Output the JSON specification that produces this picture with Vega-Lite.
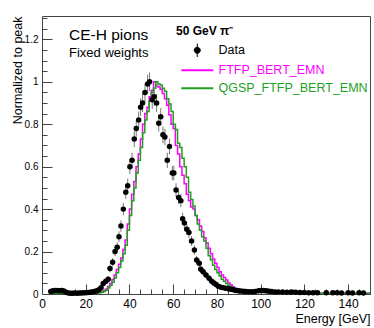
{
  "$schema": "https://vega.github.io/schema/vega-lite/v6.json",
  "width": 328,
  "height": 278,
  "autosize": "none",
  "padding": {"left": 42, "top": 16, "right": 4, "bottom": 34},
  "background": "white",
  "title": {
    "text": "CE-H pions",
    "subtitle": "Fixed weights",
    "anchor": "start",
    "frame": "group",
    "orient": "top",
    "dx": 27,
    "dy": 47,
    "offset": 0,
    "font": "Liberation Sans",
    "fontSize": 15.5,
    "fontWeight": "normal",
    "color": "black",
    "subtitleFont": "Liberation Sans",
    "subtitleFontSize": 13,
    "subtitleColor": "black",
    "subtitlePadding": 4
  },
  "config": {
    "font": "Liberation Sans",
    "view": {"stroke": "#444", "strokeWidth": 1},
    "axis": {
      "labelFont": "Liberation Sans",
      "titleFont": "Liberation Sans",
      "labelColor": "black",
      "titleColor": "black",
      "domainColor": "#444",
      "tickColor": "#444",
      "grid": false,
      "titleFontWeight": "normal"
    },
    "legend": {
      "labelFont": "Liberation Sans",
      "titleFont": "Liberation Sans"
    }
  },
  "data": {
    "values": [
      {"s": "Data", "e": 4, "v": 0.012, "err": 0.008},
      {"s": "Data", "e": 5, "v": 0.015, "err": 0.009},
      {"s": "Data", "e": 6, "v": 0.016, "err": 0.009},
      {"s": "Data", "e": 7, "v": 0.016, "err": 0.009},
      {"s": "Data", "e": 8, "v": 0.015, "err": 0.009},
      {"s": "Data", "e": 9, "v": 0.016, "err": 0.009},
      {"s": "Data", "e": 10, "v": 0.014, "err": 0.009},
      {"s": "Data", "e": 11, "v": 0.008, "err": 0.008},
      {"s": "Data", "e": 12, "v": 0.005, "err": 0.007},
      {"s": "Data", "e": 13, "v": 0.004, "err": 0.007},
      {"s": "Data", "e": 14, "v": 0.004, "err": 0.007},
      {"s": "Data", "e": 15, "v": 0.005, "err": 0.007},
      {"s": "Data", "e": 16, "v": 0.004, "err": 0.007},
      {"s": "Data", "e": 17, "v": 0.005, "err": 0.007},
      {"s": "Data", "e": 18, "v": 0.005, "err": 0.007},
      {"s": "Data", "e": 19, "v": 0.006, "err": 0.007},
      {"s": "Data", "e": 20, "v": 0.006, "err": 0.007},
      {"s": "Data", "e": 21, "v": 0.007, "err": 0.007},
      {"s": "Data", "e": 22, "v": 0.008, "err": 0.008},
      {"s": "Data", "e": 23, "v": 0.01, "err": 0.008},
      {"s": "Data", "e": 24, "v": 0.012, "err": 0.008},
      {"s": "Data", "e": 25, "v": 0.015, "err": 0.009},
      {"s": "Data", "e": 26, "v": 0.02, "err": 0.01},
      {"s": "Data", "e": 27, "v": 0.03, "err": 0.011},
      {"s": "Data", "e": 28, "v": 0.05, "err": 0.013},
      {"s": "Data", "e": 29.2, "v": 0.06, "err": 0.014},
      {"s": "Data", "e": 30.3, "v": 0.07, "err": 0.015},
      {"s": "Data", "e": 31.1, "v": 0.12, "err": 0.018},
      {"s": "Data", "e": 32.3, "v": 0.15, "err": 0.019},
      {"s": "Data", "e": 33.4, "v": 0.2, "err": 0.022},
      {"s": "Data", "e": 34.4, "v": 0.22, "err": 0.023},
      {"s": "Data", "e": 35.2, "v": 0.27, "err": 0.025},
      {"s": "Data", "e": 36.1, "v": 0.32, "err": 0.027},
      {"s": "Data", "e": 37.2, "v": 0.4, "err": 0.029},
      {"s": "Data", "e": 38.3, "v": 0.48, "err": 0.032},
      {"s": "Data", "e": 39.2, "v": 0.51, "err": 0.033},
      {"s": "Data", "e": 40.2, "v": 0.6, "err": 0.035},
      {"s": "Data", "e": 41.2, "v": 0.63, "err": 0.036},
      {"s": "Data", "e": 42.2, "v": 0.73, "err": 0.038},
      {"s": "Data", "e": 43.1, "v": 0.78, "err": 0.039},
      {"s": "Data", "e": 44.2, "v": 0.82, "err": 0.04},
      {"s": "Data", "e": 45.1, "v": 0.88, "err": 0.042},
      {"s": "Data", "e": 46, "v": 0.9, "err": 0.042},
      {"s": "Data", "e": 47.1, "v": 0.95, "err": 0.043},
      {"s": "Data", "e": 48.3, "v": 0.99, "err": 0.044},
      {"s": "Data", "e": 49.2, "v": 1.0, "err": 0.044},
      {"s": "Data", "e": 50.4, "v": 0.915, "err": 0.042},
      {"s": "Data", "e": 51.3, "v": 0.93, "err": 0.043},
      {"s": "Data", "e": 52.4, "v": 0.9, "err": 0.042},
      {"s": "Data", "e": 53.4, "v": 0.805, "err": 0.04},
      {"s": "Data", "e": 54.3, "v": 0.835, "err": 0.041},
      {"s": "Data", "e": 55.3, "v": 0.75, "err": 0.039},
      {"s": "Data", "e": 56.2, "v": 0.74, "err": 0.038},
      {"s": "Data", "e": 57.3, "v": 0.63, "err": 0.036},
      {"s": "Data", "e": 58.3, "v": 0.695, "err": 0.037},
      {"s": "Data", "e": 59.6, "v": 0.57, "err": 0.034},
      {"s": "Data", "e": 60.3, "v": 0.57, "err": 0.034},
      {"s": "Data", "e": 61.3, "v": 0.49, "err": 0.032},
      {"s": "Data", "e": 62.5, "v": 0.455, "err": 0.031},
      {"s": "Data", "e": 63.5, "v": 0.44, "err": 0.031},
      {"s": "Data", "e": 64.3, "v": 0.355, "err": 0.028},
      {"s": "Data", "e": 65.1, "v": 0.335, "err": 0.027},
      {"s": "Data", "e": 66.2, "v": 0.305, "err": 0.026},
      {"s": "Data", "e": 67.2, "v": 0.29, "err": 0.026},
      {"s": "Data", "e": 68.4, "v": 0.25, "err": 0.024},
      {"s": "Data", "e": 69.7, "v": 0.207, "err": 0.022},
      {"s": "Data", "e": 70.7, "v": 0.16, "err": 0.02},
      {"s": "Data", "e": 71.9, "v": 0.145, "err": 0.019},
      {"s": "Data", "e": 72.6, "v": 0.117, "err": 0.018},
      {"s": "Data", "e": 73.7, "v": 0.105, "err": 0.017},
      {"s": "Data", "e": 75, "v": 0.09, "err": 0.016},
      {"s": "Data", "e": 76.4, "v": 0.074, "err": 0.015},
      {"s": "Data", "e": 77.6, "v": 0.06, "err": 0.014},
      {"s": "Data", "e": 78.6, "v": 0.052, "err": 0.013},
      {"s": "Data", "e": 79.6, "v": 0.045, "err": 0.012},
      {"s": "Data", "e": 80.6, "v": 0.036, "err": 0.012},
      {"s": "Data", "e": 81.8, "v": 0.032, "err": 0.011},
      {"s": "Data", "e": 82.9, "v": 0.03, "err": 0.011},
      {"s": "Data", "e": 84, "v": 0.027, "err": 0.011},
      {"s": "Data", "e": 85.2, "v": 0.025, "err": 0.01},
      {"s": "Data", "e": 86.3, "v": 0.022, "err": 0.01},
      {"s": "Data", "e": 87.5, "v": 0.02, "err": 0.01},
      {"s": "Data", "e": 88.6, "v": 0.017, "err": 0.009},
      {"s": "Data", "e": 89.7, "v": 0.015, "err": 0.009},
      {"s": "Data", "e": 90.8, "v": 0.014, "err": 0.009},
      {"s": "Data", "e": 92, "v": 0.013, "err": 0.009},
      {"s": "Data", "e": 93.2, "v": 0.012, "err": 0.008},
      {"s": "Data", "e": 94.5, "v": 0.011, "err": 0.008},
      {"s": "Data", "e": 96, "v": 0.011, "err": 0.008},
      {"s": "Data", "e": 97.5, "v": 0.012, "err": 0.008},
      {"s": "Data", "e": 99, "v": 0.015, "err": 0.009},
      {"s": "Data", "e": 100.2, "v": 0.016, "err": 0.009},
      {"s": "Data", "e": 101.4, "v": 0.016, "err": 0.009},
      {"s": "Data", "e": 102.6, "v": 0.015, "err": 0.009},
      {"s": "Data", "e": 103.8, "v": 0.013, "err": 0.009},
      {"s": "Data", "e": 105, "v": 0.012, "err": 0.008},
      {"s": "Data", "e": 106.5, "v": 0.01, "err": 0.008},
      {"s": "Data", "e": 108, "v": 0.01, "err": 0.008},
      {"s": "Data", "e": 110, "v": 0.009, "err": 0.008},
      {"s": "Data", "e": 112, "v": 0.008, "err": 0.008},
      {"s": "Data", "e": 114, "v": 0.009, "err": 0.008},
      {"s": "Data", "e": 116, "v": 0.008, "err": 0.008},
      {"s": "Data", "e": 118, "v": 0.007, "err": 0.007},
      {"s": "Data", "e": 120, "v": 0.007, "err": 0.007},
      {"s": "Data", "e": 122, "v": 0.006, "err": 0.007},
      {"s": "Data", "e": 124, "v": 0.006, "err": 0.007},
      {"s": "Data", "e": 126, "v": 0.006, "err": 0.007},
      {"s": "Data", "e": 130, "v": 0.006, "err": 0.007},
      {"s": "Data", "e": 133, "v": 0.006, "err": 0.007},
      {"s": "Data", "e": 135, "v": 0.006, "err": 0.007},
      {"s": "Data", "e": 137, "v": 0.005, "err": 0.007},
      {"s": "Data", "e": 140, "v": 0.006, "err": 0.007},
      {"s": "Data", "e": 142, "v": 0.005, "err": 0.007},
      {"s": "Data", "e": 145, "v": 0.006, "err": 0.007},
      {"s": "Data", "e": 147, "v": 0.005, "err": 0.007},

      {"s": "FTFP_BERT_EMN", "e": 4, "v": 0.003},
      {"s": "FTFP_BERT_EMN", "e": 6, "v": 0.004},
      {"s": "FTFP_BERT_EMN", "e": 8, "v": 0.005},
      {"s": "FTFP_BERT_EMN", "e": 10, "v": 0.004},
      {"s": "FTFP_BERT_EMN", "e": 12, "v": 0.003},
      {"s": "FTFP_BERT_EMN", "e": 14, "v": 0.003},
      {"s": "FTFP_BERT_EMN", "e": 16, "v": 0.003},
      {"s": "FTFP_BERT_EMN", "e": 18, "v": 0.003},
      {"s": "FTFP_BERT_EMN", "e": 20, "v": 0.004},
      {"s": "FTFP_BERT_EMN", "e": 22, "v": 0.004},
      {"s": "FTFP_BERT_EMN", "e": 24, "v": 0.005},
      {"s": "FTFP_BERT_EMN", "e": 25, "v": 0.006},
      {"s": "FTFP_BERT_EMN", "e": 26, "v": 0.008},
      {"s": "FTFP_BERT_EMN", "e": 27, "v": 0.011},
      {"s": "FTFP_BERT_EMN", "e": 28, "v": 0.016},
      {"s": "FTFP_BERT_EMN", "e": 29, "v": 0.024},
      {"s": "FTFP_BERT_EMN", "e": 30, "v": 0.035},
      {"s": "FTFP_BERT_EMN", "e": 31, "v": 0.05},
      {"s": "FTFP_BERT_EMN", "e": 32, "v": 0.068},
      {"s": "FTFP_BERT_EMN", "e": 33, "v": 0.09},
      {"s": "FTFP_BERT_EMN", "e": 34, "v": 0.115},
      {"s": "FTFP_BERT_EMN", "e": 35, "v": 0.14},
      {"s": "FTFP_BERT_EMN", "e": 36, "v": 0.17},
      {"s": "FTFP_BERT_EMN", "e": 37, "v": 0.21},
      {"s": "FTFP_BERT_EMN", "e": 38, "v": 0.255},
      {"s": "FTFP_BERT_EMN", "e": 39, "v": 0.33},
      {"s": "FTFP_BERT_EMN", "e": 40, "v": 0.4},
      {"s": "FTFP_BERT_EMN", "e": 41, "v": 0.47},
      {"s": "FTFP_BERT_EMN", "e": 42, "v": 0.53},
      {"s": "FTFP_BERT_EMN", "e": 43, "v": 0.6},
      {"s": "FTFP_BERT_EMN", "e": 44, "v": 0.66},
      {"s": "FTFP_BERT_EMN", "e": 45, "v": 0.73},
      {"s": "FTFP_BERT_EMN", "e": 46, "v": 0.8},
      {"s": "FTFP_BERT_EMN", "e": 47, "v": 0.85},
      {"s": "FTFP_BERT_EMN", "e": 48, "v": 0.88},
      {"s": "FTFP_BERT_EMN", "e": 49, "v": 0.93},
      {"s": "FTFP_BERT_EMN", "e": 50, "v": 0.96},
      {"s": "FTFP_BERT_EMN", "e": 51, "v": 1.0},
      {"s": "FTFP_BERT_EMN", "e": 52, "v": 0.98},
      {"s": "FTFP_BERT_EMN", "e": 53, "v": 0.975},
      {"s": "FTFP_BERT_EMN", "e": 54, "v": 0.965},
      {"s": "FTFP_BERT_EMN", "e": 55, "v": 0.945},
      {"s": "FTFP_BERT_EMN", "e": 56, "v": 0.92},
      {"s": "FTFP_BERT_EMN", "e": 57, "v": 0.89},
      {"s": "FTFP_BERT_EMN", "e": 58, "v": 0.845},
      {"s": "FTFP_BERT_EMN", "e": 59, "v": 0.8},
      {"s": "FTFP_BERT_EMN", "e": 60, "v": 0.78},
      {"s": "FTFP_BERT_EMN", "e": 61, "v": 0.7},
      {"s": "FTFP_BERT_EMN", "e": 62, "v": 0.66},
      {"s": "FTFP_BERT_EMN", "e": 63, "v": 0.6},
      {"s": "FTFP_BERT_EMN", "e": 64, "v": 0.56},
      {"s": "FTFP_BERT_EMN", "e": 65, "v": 0.52},
      {"s": "FTFP_BERT_EMN", "e": 66, "v": 0.47},
      {"s": "FTFP_BERT_EMN", "e": 67, "v": 0.44},
      {"s": "FTFP_BERT_EMN", "e": 68, "v": 0.41},
      {"s": "FTFP_BERT_EMN", "e": 69, "v": 0.4},
      {"s": "FTFP_BERT_EMN", "e": 70, "v": 0.37},
      {"s": "FTFP_BERT_EMN", "e": 71, "v": 0.35},
      {"s": "FTFP_BERT_EMN", "e": 72, "v": 0.32},
      {"s": "FTFP_BERT_EMN", "e": 73, "v": 0.295},
      {"s": "FTFP_BERT_EMN", "e": 74, "v": 0.265},
      {"s": "FTFP_BERT_EMN", "e": 75, "v": 0.24},
      {"s": "FTFP_BERT_EMN", "e": 76, "v": 0.215},
      {"s": "FTFP_BERT_EMN", "e": 77, "v": 0.19},
      {"s": "FTFP_BERT_EMN", "e": 78, "v": 0.165},
      {"s": "FTFP_BERT_EMN", "e": 79, "v": 0.145},
      {"s": "FTFP_BERT_EMN", "e": 80, "v": 0.125},
      {"s": "FTFP_BERT_EMN", "e": 81, "v": 0.105},
      {"s": "FTFP_BERT_EMN", "e": 82, "v": 0.09},
      {"s": "FTFP_BERT_EMN", "e": 83, "v": 0.078},
      {"s": "FTFP_BERT_EMN", "e": 84, "v": 0.066},
      {"s": "FTFP_BERT_EMN", "e": 85, "v": 0.052},
      {"s": "FTFP_BERT_EMN", "e": 86, "v": 0.042},
      {"s": "FTFP_BERT_EMN", "e": 87, "v": 0.034},
      {"s": "FTFP_BERT_EMN", "e": 88, "v": 0.027},
      {"s": "FTFP_BERT_EMN", "e": 89, "v": 0.022},
      {"s": "FTFP_BERT_EMN", "e": 90, "v": 0.018},
      {"s": "FTFP_BERT_EMN", "e": 91, "v": 0.015},
      {"s": "FTFP_BERT_EMN", "e": 92, "v": 0.013},
      {"s": "FTFP_BERT_EMN", "e": 94, "v": 0.011},
      {"s": "FTFP_BERT_EMN", "e": 96, "v": 0.009},
      {"s": "FTFP_BERT_EMN", "e": 98, "v": 0.008},
      {"s": "FTFP_BERT_EMN", "e": 100, "v": 0.007},
      {"s": "FTFP_BERT_EMN", "e": 102, "v": 0.007},
      {"s": "FTFP_BERT_EMN", "e": 104, "v": 0.006},
      {"s": "FTFP_BERT_EMN", "e": 106, "v": 0.006},
      {"s": "FTFP_BERT_EMN", "e": 108, "v": 0.005},
      {"s": "FTFP_BERT_EMN", "e": 110, "v": 0.005},
      {"s": "FTFP_BERT_EMN", "e": 114, "v": 0.004},
      {"s": "FTFP_BERT_EMN", "e": 120, "v": 0.004},
      {"s": "FTFP_BERT_EMN", "e": 126, "v": 0.003},
      {"s": "FTFP_BERT_EMN", "e": 150, "v": 0.003},

      {"s": "QGSP_FTFP_BERT_EMN", "e": 4, "v": 0.003},
      {"s": "QGSP_FTFP_BERT_EMN", "e": 6, "v": 0.004},
      {"s": "QGSP_FTFP_BERT_EMN", "e": 8, "v": 0.004},
      {"s": "QGSP_FTFP_BERT_EMN", "e": 10, "v": 0.003},
      {"s": "QGSP_FTFP_BERT_EMN", "e": 22, "v": 0.004},
      {"s": "QGSP_FTFP_BERT_EMN", "e": 24, "v": 0.004},
      {"s": "QGSP_FTFP_BERT_EMN", "e": 25, "v": 0.005},
      {"s": "QGSP_FTFP_BERT_EMN", "e": 26, "v": 0.006},
      {"s": "QGSP_FTFP_BERT_EMN", "e": 27, "v": 0.008},
      {"s": "QGSP_FTFP_BERT_EMN", "e": 28, "v": 0.012},
      {"s": "QGSP_FTFP_BERT_EMN", "e": 29, "v": 0.018},
      {"s": "QGSP_FTFP_BERT_EMN", "e": 30, "v": 0.028},
      {"s": "QGSP_FTFP_BERT_EMN", "e": 31, "v": 0.04},
      {"s": "QGSP_FTFP_BERT_EMN", "e": 32, "v": 0.055},
      {"s": "QGSP_FTFP_BERT_EMN", "e": 33, "v": 0.075},
      {"s": "QGSP_FTFP_BERT_EMN", "e": 34, "v": 0.1},
      {"s": "QGSP_FTFP_BERT_EMN", "e": 35, "v": 0.125},
      {"s": "QGSP_FTFP_BERT_EMN", "e": 36, "v": 0.155},
      {"s": "QGSP_FTFP_BERT_EMN", "e": 37, "v": 0.19},
      {"s": "QGSP_FTFP_BERT_EMN", "e": 38, "v": 0.23},
      {"s": "QGSP_FTFP_BERT_EMN", "e": 39, "v": 0.3},
      {"s": "QGSP_FTFP_BERT_EMN", "e": 40, "v": 0.37},
      {"s": "QGSP_FTFP_BERT_EMN", "e": 41, "v": 0.44},
      {"s": "QGSP_FTFP_BERT_EMN", "e": 42, "v": 0.5},
      {"s": "QGSP_FTFP_BERT_EMN", "e": 43, "v": 0.57},
      {"s": "QGSP_FTFP_BERT_EMN", "e": 44, "v": 0.63},
      {"s": "QGSP_FTFP_BERT_EMN", "e": 45, "v": 0.69},
      {"s": "QGSP_FTFP_BERT_EMN", "e": 46, "v": 0.76},
      {"s": "QGSP_FTFP_BERT_EMN", "e": 47, "v": 0.82},
      {"s": "QGSP_FTFP_BERT_EMN", "e": 48, "v": 0.86},
      {"s": "QGSP_FTFP_BERT_EMN", "e": 49, "v": 0.91},
      {"s": "QGSP_FTFP_BERT_EMN", "e": 50, "v": 0.95},
      {"s": "QGSP_FTFP_BERT_EMN", "e": 51, "v": 0.97},
      {"s": "QGSP_FTFP_BERT_EMN", "e": 52, "v": 1.0},
      {"s": "QGSP_FTFP_BERT_EMN", "e": 53, "v": 0.99},
      {"s": "QGSP_FTFP_BERT_EMN", "e": 54, "v": 0.985},
      {"s": "QGSP_FTFP_BERT_EMN", "e": 55, "v": 0.97},
      {"s": "QGSP_FTFP_BERT_EMN", "e": 56, "v": 0.955},
      {"s": "QGSP_FTFP_BERT_EMN", "e": 57, "v": 0.92},
      {"s": "QGSP_FTFP_BERT_EMN", "e": 58, "v": 0.895},
      {"s": "QGSP_FTFP_BERT_EMN", "e": 59, "v": 0.86},
      {"s": "QGSP_FTFP_BERT_EMN", "e": 60, "v": 0.8},
      {"s": "QGSP_FTFP_BERT_EMN", "e": 61, "v": 0.775},
      {"s": "QGSP_FTFP_BERT_EMN", "e": 62, "v": 0.71},
      {"s": "QGSP_FTFP_BERT_EMN", "e": 63, "v": 0.69},
      {"s": "QGSP_FTFP_BERT_EMN", "e": 64, "v": 0.64},
      {"s": "QGSP_FTFP_BERT_EMN", "e": 65, "v": 0.6},
      {"s": "QGSP_FTFP_BERT_EMN", "e": 66, "v": 0.55},
      {"s": "QGSP_FTFP_BERT_EMN", "e": 67, "v": 0.48},
      {"s": "QGSP_FTFP_BERT_EMN", "e": 68, "v": 0.445},
      {"s": "QGSP_FTFP_BERT_EMN", "e": 69, "v": 0.415},
      {"s": "QGSP_FTFP_BERT_EMN", "e": 70, "v": 0.37},
      {"s": "QGSP_FTFP_BERT_EMN", "e": 71, "v": 0.33},
      {"s": "QGSP_FTFP_BERT_EMN", "e": 72, "v": 0.3},
      {"s": "QGSP_FTFP_BERT_EMN", "e": 73, "v": 0.27},
      {"s": "QGSP_FTFP_BERT_EMN", "e": 74, "v": 0.25},
      {"s": "QGSP_FTFP_BERT_EMN", "e": 75, "v": 0.215},
      {"s": "QGSP_FTFP_BERT_EMN", "e": 76, "v": 0.18},
      {"s": "QGSP_FTFP_BERT_EMN", "e": 77, "v": 0.16},
      {"s": "QGSP_FTFP_BERT_EMN", "e": 78, "v": 0.135},
      {"s": "QGSP_FTFP_BERT_EMN", "e": 79, "v": 0.115},
      {"s": "QGSP_FTFP_BERT_EMN", "e": 80, "v": 0.1},
      {"s": "QGSP_FTFP_BERT_EMN", "e": 81, "v": 0.085},
      {"s": "QGSP_FTFP_BERT_EMN", "e": 82, "v": 0.07},
      {"s": "QGSP_FTFP_BERT_EMN", "e": 83, "v": 0.06},
      {"s": "QGSP_FTFP_BERT_EMN", "e": 84, "v": 0.05},
      {"s": "QGSP_FTFP_BERT_EMN", "e": 85, "v": 0.04},
      {"s": "QGSP_FTFP_BERT_EMN", "e": 86, "v": 0.034},
      {"s": "QGSP_FTFP_BERT_EMN", "e": 87, "v": 0.028},
      {"s": "QGSP_FTFP_BERT_EMN", "e": 88, "v": 0.023},
      {"s": "QGSP_FTFP_BERT_EMN", "e": 89, "v": 0.02},
      {"s": "QGSP_FTFP_BERT_EMN", "e": 90, "v": 0.016},
      {"s": "QGSP_FTFP_BERT_EMN", "e": 91, "v": 0.014},
      {"s": "QGSP_FTFP_BERT_EMN", "e": 92, "v": 0.012},
      {"s": "QGSP_FTFP_BERT_EMN", "e": 94, "v": 0.01},
      {"s": "QGSP_FTFP_BERT_EMN", "e": 96, "v": 0.009},
      {"s": "QGSP_FTFP_BERT_EMN", "e": 98, "v": 0.008},
      {"s": "QGSP_FTFP_BERT_EMN", "e": 102, "v": 0.007},
      {"s": "QGSP_FTFP_BERT_EMN", "e": 104, "v": 0.006},
      {"s": "QGSP_FTFP_BERT_EMN", "e": 108, "v": 0.005},
      {"s": "QGSP_FTFP_BERT_EMN", "e": 114, "v": 0.004},
      {"s": "QGSP_FTFP_BERT_EMN", "e": 122, "v": 0.003},
      {"s": "QGSP_FTFP_BERT_EMN", "e": 150, "v": 0.003}
    ]
  },
  "encoding": {
    "x": {
      "field": "e",
      "type": "quantitative",
      "scale": {"domain": [0, 150], "nice": false, "zero": false},
      "axis": {
        "title": "Energy [GeV]",
        "titleFontSize": 12.5,
        "titleAnchor": "end",
        "titleAlign": "right",
        "titleX": 328,
        "titleY": 28,
        "titleBaseline": "alphabetic",
        "values": [0,5,10,15,20,25,30,35,40,45,50,55,60,65,70,75,80,85,90,95,100,105,110,115,120,125,130,135,140,145,150],
        "labelExpr": "datum.value % 20 === 0 ? datum.label : ''",
        "labelFontSize": 12,
        "labelPadding": 14,
        "labelFlush": false,
        "labelOverlap": false,
        "tickSize": {"condition": {"test": "datum.value % 20 === 0", "value": -10}, "value": -5},
        "domain": false
      }
    },
    "y": {
      "field": "v",
      "type": "quantitative",
      "scale": {"domain": [0, 1.31], "nice": false},
      "axis": {
        "title": "Normalized to peak",
        "titleFontSize": 12.5,
        "titleAngle": -90,
        "titleAlign": "right",
        "titleBaseline": "middle",
        "titleX": -25,
        "titleY": 0,
        "values": [0,0.05,0.1,0.15,0.2,0.25,0.3,0.35,0.4,0.45,0.5,0.55,0.6,0.65,0.7,0.75,0.8,0.85,0.9,0.95,1,1.05,1.1,1.15,1.2,1.25,1.3],
        "labelExpr": "abs(datum.value*5 - round(datum.value*5)) < 0.001 ? format(datum.value, '.2~f') : ''",
        "labelFontSize": 10,
        "labelPadding": 14,
        "labelFlush": false,
        "labelOverlap": false,
        "tickSize": {"condition": {"test": "abs(datum.value*5 - round(datum.value*5)) < 0.001", "value": -10}, "value": -5},
        "domain": false
      }
    },
    "color": {
      "field": "s",
      "type": "nominal",
      "scale": {"domain": ["Data", "FTFP_BERT_EMN", "QGSP_FTFP_BERT_EMN"], "range": ["black", "#ff00ff", "#1fa01f"]},
      "legend": {
        "title": "50 GeV  π⁻",
        "orient": "none",
        "legendX": 134,
        "legendY": 10,
        "padding": 0,
        "titleFontSize": 12,
        "titleFontWeight": "bold",
        "titleColor": "black",
        "titlePadding": 6,
        "labelFontSize": 12.5,
        "labelOffset": 15,
        "symbolOffset": 15,
        "rowPadding": 5,
        "symbolSize": 1024,
        "symbolStrokeWidth": 2,
        "values": ["Data", "FTFP_BERT_EMN", "QGSP_FTFP_BERT_EMN"],
        "encode": {
          "symbols": {
            "update": {
              "shape": {"signal": "datum.value === 'Data' ? 'M0,-0.42L0,0.42M0.19,0A0.19,0.19,0,1,1,-0.19,0A0.19,0.19,0,1,1,0.19,0Z' : 'stroke'"},
              "fill": {"signal": "datum.value === 'Data' ? 'black' : 'transparent'"},
              "stroke": {"signal": "datum.value === 'Data' ? 'black' : (datum.value === 'FTFP_BERT_EMN' ? '#ff00ff' : '#1fa01f')"},
              "strokeWidth": {"signal": "datum.value === 'Data' ? 1 : 2"},
              "opacity": {"value": 1}
            }
          },
          "labels": {
            "update": {
              "fill": {"signal": "datum.value === 'Data' ? 'black' : (datum.value === 'FTFP_BERT_EMN' ? '#ff00ff' : '#1fa01f')"}
            }
          }
        }
      }
    }
  },
  "layer": [
    {
      "transform": [{"filter": "datum.s !== 'Data'"}],
      "mark": {"type": "line", "interpolate": "step-after", "strokeWidth": 1.5},
      "encoding": {
        "order": {"field": "e"}
      }
    },
    {
      "transform": [{"filter": "datum.s === 'Data'"}],
      "mark": {"type": "errorbar", "ticks": false, "color": "#777", "thickness": 1},
      "encoding": {
        "yError": {"field": "err"},
        "color": {"value": "#777"}
      }
    },
    {
      "transform": [{"filter": "datum.s === 'Data'"}],
      "mark": {"type": "point", "filled": true, "size": 30, "opacity": 1}
    }
  ]
}
